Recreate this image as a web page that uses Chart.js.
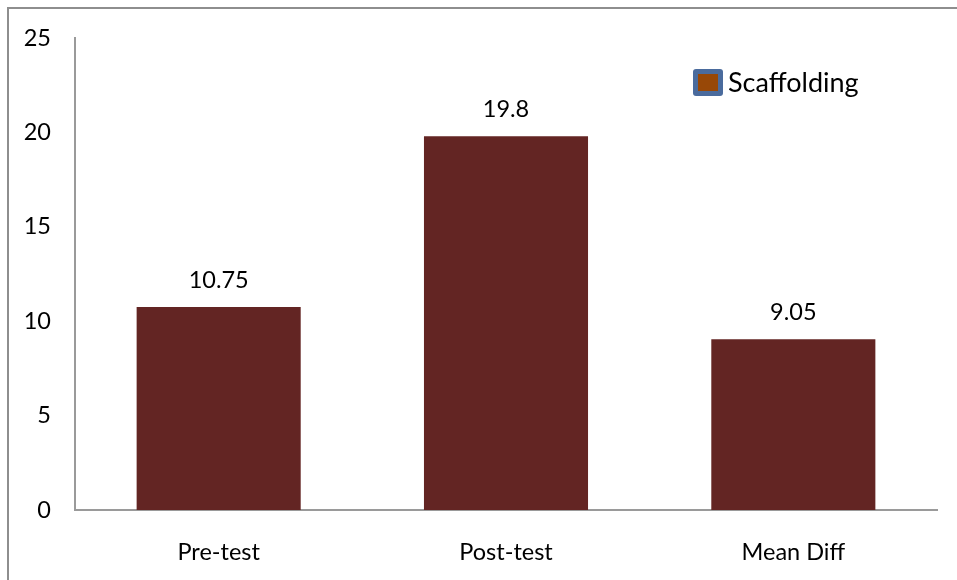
<!DOCTYPE html>
<html>
<head>
<meta charset="utf-8">
<script src="https://cdn.jsdelivr.net/npm/chart.js@4"></script>
<style>
  html, body { margin: 0; padding: 0; background: #fff; }
  #wrap { width: 957px; height: 580px; position: relative; }
</style>
</head>
<body>
<div id="wrap"><canvas id="chart" width="957" height="580"></canvas></div>
<script>
const categories = ["Pre-test", "Post-test", "Mean Diff"];
const scores = [10.75, 19.8, 9.05];
const yTicks = [0, 5, 10, 15, 20, 25];
const seriesName = "Scaffolding";

const FONT = "Lato, 'Open Sans', sans-serif";

// frame lines (only top and left show in the original)
const framePlugin = {
  id: "frame",
  beforeDraw(chart) {
    const ctx = chart.ctx;
    ctx.save();
    ctx.strokeStyle = "#8e8e8e";
    ctx.lineWidth = 2;
    ctx.beginPath();
    ctx.moveTo(8, 580);
    ctx.lineTo(8, 8);
    ctx.lineTo(957, 8);
    ctx.stroke();
    ctx.restore();
  }
};

// value labels above bars
const valueLabels = {
  id: "valueLabels",
  afterDatasetsDraw(chart) {
    const ctx = chart.ctx;
    const meta = chart.getDatasetMeta(0);
    ctx.save();
    ctx.font = "23.5px " + FONT;
    ctx.fillStyle = "#000";
    ctx.textAlign = "center";
    ctx.textBaseline = "alphabetic";
    meta.data.forEach((bar, i) => {
      ctx.fillText(String(chart.data.datasets[0].data[i]), bar.x, bar.y - 19);
    });
    ctx.restore();
  }
};

// legend box in the top right
const legendBox = {
  id: "legendBox",
  afterDraw(chart) {
    const ctx = chart.ctx;
    ctx.save();
    ctx.fillStyle = "#4a6b9d";
    ctx.beginPath();
    ctx.roundRect(693, 69, 30, 27, 3);
    ctx.fill();
    ctx.fillStyle = "#984807";
    ctx.fillRect(698, 74, 20, 17);
    ctx.font = "27px " + FONT;
    ctx.fillStyle = "#000";
    ctx.textBaseline = "alphabetic";
    ctx.fillText(chart.data.datasets[0].label, 728, 92);
    ctx.restore();
  }
};

new Chart(document.getElementById("chart"), {
  type: "bar",
  data: {
    labels: categories,
    datasets: [{
      label: seriesName,
      data: scores,
      backgroundColor: "#632523",
      borderWidth: 0,
      barPercentage: 0.571,
      categoryPercentage: 1.0
    }]
  },
  options: {
    responsive: false,
    animation: false,
    layout: { padding: { top: 36, right: 20, left: 0, bottom: 0 } },
    plugins: {
      legend: { display: false },
      tooltip: { enabled: false }
    },
    scales: {
      x: {
        grid: { display: false, drawTicks: false },
        border: { color: "#9a9a9a", width: 2 },
        ticks: { color: "#000", font: { family: FONT, size: 23.5 }, padding: 28 },
        afterFit(scale) { scale.height = 70; }
      },
      y: {
        min: 0,
        max: 25,
        afterBuildTicks(scale) { scale.ticks = yTicks.map(v => ({ value: v })); },
        grid: { display: false, drawTicks: false },
        border: { color: "#9a9a9a", width: 2 },
        ticks: { color: "#000", font: { family: FONT, size: 23.5 }, padding: 24 },
        afterFit(scale) { scale.width = 75; }
      }
    }
  },
  plugins: [framePlugin, valueLabels, legendBox]
});
</script>
</body>
</html>
